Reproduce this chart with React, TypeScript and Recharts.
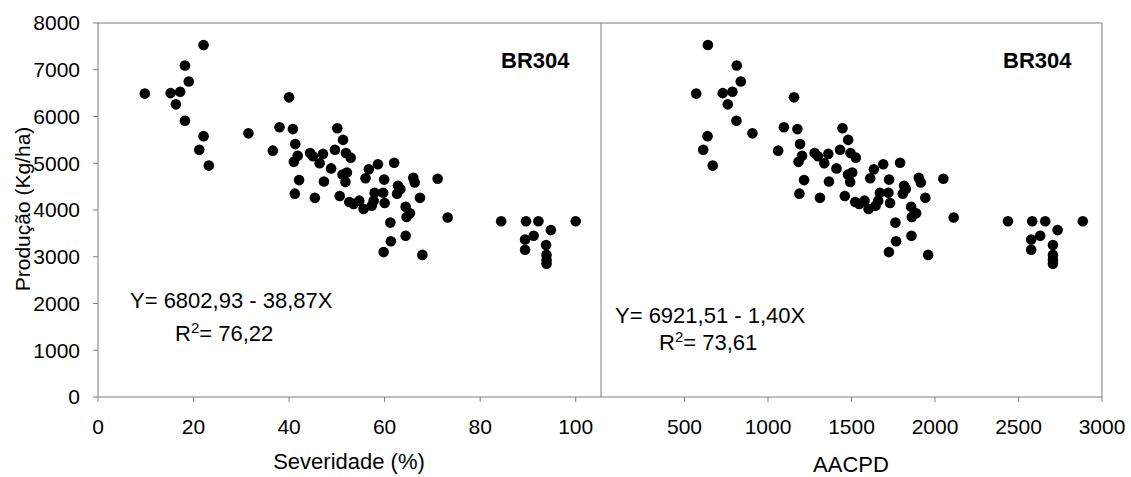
import { ScatterChart, Scatter, XAxis, YAxis, ReferenceLine } from 'recharts'

// severidade (%), AACPD e produção (kg/ha) de cada parcela
const severidade = [
  9.8, 15.2, 17.2, 16.3, 18.2, 19.0, 18.2, 22.1, 22.1, 21.2, 23.2, 31.5, 36.6, 38.0, 40.0, 40.8,
  41.3, 41.8, 41.0, 42.1, 41.2, 44.4, 45.0, 47.1, 46.4, 47.3, 45.4, 48.8, 50.1, 51.3, 49.6, 51.9,
  52.9, 51.2, 52.1, 51.8, 50.6, 52.6, 53.5, 54.7, 55.6, 56.7, 56.0, 58.6, 62.0, 57.9, 57.3, 57.7,
  59.9, 59.7, 60.0, 62.8, 63.3, 62.6, 66.0, 66.3, 67.4, 71.1, 64.4, 65.3, 64.6, 73.2, 61.2, 61.3,
  64.4, 59.8, 67.9, 84.4, 89.6, 92.2, 100.0, 94.8, 91.2, 89.4, 89.4, 93.8, 93.9, 93.9, 93.9,
]
const aacpd = [
  570, 729, 787, 759, 813, 837, 811, 640, 638, 612, 669, 907, 1061, 1095, 1156, 1176,
  1192, 1204, 1183, 1216, 1188, 1279, 1299, 1361, 1337, 1365, 1311, 1410, 1446, 1480, 1431, 1494,
  1526, 1479, 1504, 1492, 1460, 1522, 1546, 1578, 1602, 1634, 1612, 1690, 1791, 1670, 1644, 1660,
  1725, 1721, 1731, 1815, 1825, 1807, 1903, 1915, 1942, 2050, 1857, 1887, 1861, 2112, 1763, 1767,
  1859, 1724, 1959, 2437, 2582, 2660, 2885, 2734, 2630, 2576, 2576, 2706, 2706, 2706, 2706,
]
const producao = [
  6490, 6500, 6530, 6260, 7090, 6750, 5910, 7530, 5580, 5290, 4950, 5640, 5270, 5770, 6410, 5730,
  5410, 5160, 5030, 4640, 4350, 5220, 5150, 5200, 5000, 4610, 4260, 4890, 5750, 5500, 5290, 5220,
  5120, 4760, 4800, 4600, 4300, 4170, 4130, 4200, 4020, 4870, 4680, 4980, 5010, 4370, 4090, 4200,
  4650, 4370, 4150, 4520, 4450, 4350, 4690, 4590, 4260, 4670, 4070, 3930, 3850, 3840, 3730, 3330,
  3450, 3100, 3040, 3760, 3760, 3760, 3760, 3570, 3450, 3370, 3150, 3250, 3040, 2930, 2850,
]

const yTicks = [0, 1000, 2000, 3000, 4000, 5000, 6000, 7000, 8000]
const sevTicks = [0, 20, 40, 60, 80, 100]
const aacpdTicks = [500, 1000, 1500, 2000, 2500, 3000]

const W = 1131
const H = 477
const axisColor = '#7f7f7f'
const font = '"Liberation Sans", Arial, sans-serif'

const Dot = (props: any) => <circle cx={props.cx} cy={props.cy} r={5.3} fill="#000" />

export default function App() {
  const sevData = producao.map((y, i) => ({ x: severidade[i], y }))
  const aacpdData = producao.map((y, i) => ({ x: aacpd[i], y }))
  const tick = { fill: '#000', fontSize: 21 }

  return (
    <div
      style={{ position: 'absolute', left: 0, top: 0, width: W, height: H, background: '#fff', fontFamily: font }}
    >
      <div style={{ position: 'absolute', left: 0, top: 0 }}>
        <ScatterChart width={W} height={H} margin={{ top: 23, right: 530, bottom: 20, left: 18 }}>
          <XAxis
            type="number"
            dataKey="x"
            domain={[0, 105.3]}
            ticks={sevTicks}
            height={60}
            tickSize={5}
            tickMargin={17}
            stroke={axisColor}
            tick={tick}
            allowDataOverflow
          />
          <YAxis
            type="number"
            dataKey="y"
            domain={[0, 8000]}
            ticks={yTicks}
            width={80}
            tickSize={5}
            tickMargin={13}
            stroke={axisColor}
            tick={tick}
          />
          <ReferenceLine y={8000} stroke={axisColor} />
          <Scatter data={sevData} shape={Dot} isAnimationActive={false} />
        </ScatterChart>
      </div>
      <div style={{ position: 'absolute', left: 0, top: 0 }}>
        <ScatterChart width={W} height={H} margin={{ top: 23, right: 29, bottom: 20, left: 541 }}>
          <XAxis
            type="number"
            dataKey="x"
            domain={[0, 3000]}
            ticks={aacpdTicks}
            height={60}
            tickSize={5}
            tickMargin={17}
            stroke={axisColor}
            tick={tick}
          />
          <YAxis
            type="number"
            dataKey="y"
            domain={[0, 8000]}
            ticks={yTicks}
            width={60}
            tickSize={5}
            tick={false}
            stroke={axisColor}
          />
          <ReferenceLine y={8000} stroke={axisColor} />
          <ReferenceLine x={3000} stroke={axisColor} />
          <Scatter data={aacpdData} shape={Dot} isAnimationActive={false} />
        </ScatterChart>
      </div>
      <svg
        width={W}
        height={H}
        style={{ position: 'absolute', left: 0, top: 0, pointerEvents: 'none' }}
        fontFamily={font}
      >
        <text x={23} y={209} fontSize={21} textAnchor="middle" dy="0.35em" transform="rotate(-90 23 209)">
          Produção (Kg/ha)
        </text>
        <text x={349} y={469} fontSize={22} textAnchor="middle">
          Severidade (%)
        </text>
        <text x={851} y={472} fontSize={22} textAnchor="middle">
          AACPD
        </text>
        <text x={501} y={67.5} fontSize={22} fontWeight="bold">
          BR304
        </text>
        <text x={1003} y={67.5} fontSize={22} fontWeight="bold">
          BR304
        </text>
        <text x={130} y={307.5} fontSize={22}>
          Y= 6802,93 - 38,87X
        </text>
        <text x={175} y={341} fontSize={22}>
          R<tspan fontSize={15} dy={-8}>2</tspan>
          <tspan dy={8}>= 76,22</tspan>
        </text>
        <text x={615} y={323} fontSize={22}>
          Y= 6921,51 - 1,40X
        </text>
        <text x={659} y={350} fontSize={22}>
          R<tspan fontSize={15} dy={-8}>2</tspan>
          <tspan dy={8}>= 73,61</tspan>
        </text>
      </svg>
    </div>
  )
}
